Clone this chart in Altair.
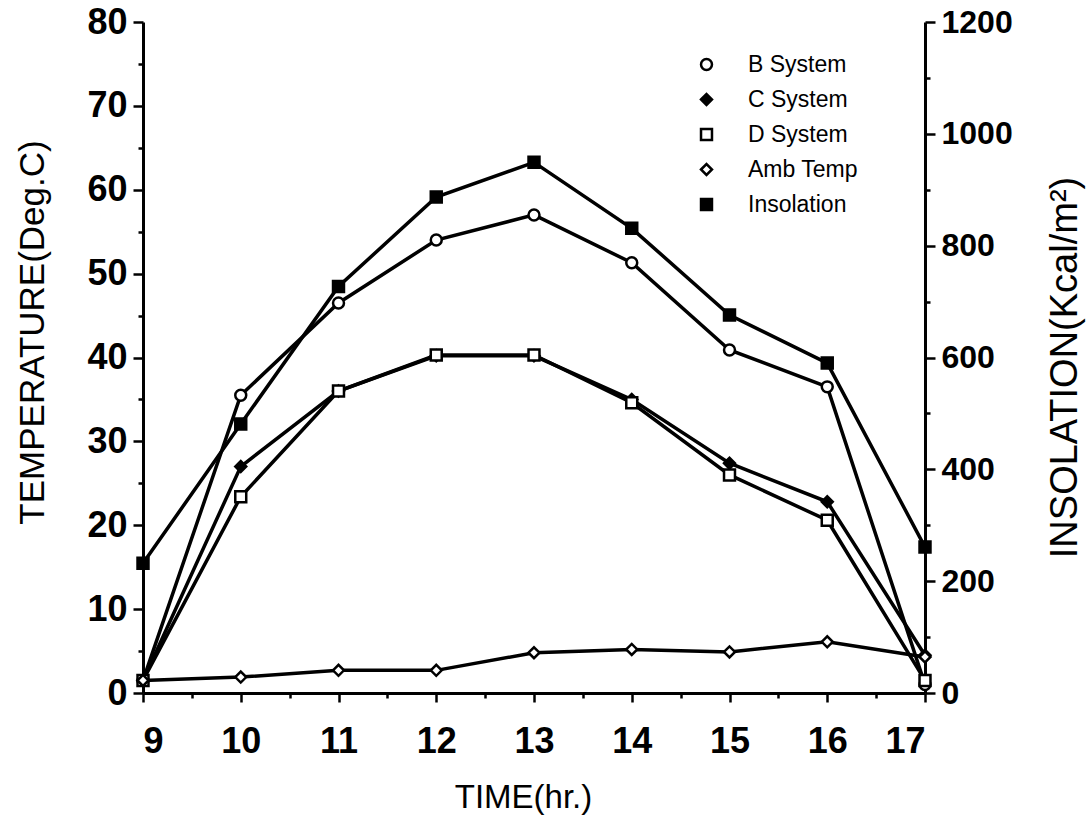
import altair as alt
import pandas as pd

hours = [9, 10, 11, 12, 13, 14, 15, 16, 17]
b_system = [1.5, 35.5, 46.5, 54.0, 57.0, 51.3, 40.9, 36.5, 1.0]
c_system = [1.5, 27.0, 36.0, 40.2, 40.2, 35.0, 27.4, 22.8, 4.5]
d_system = [1.5, 23.4, 36.0, 40.3, 40.3, 34.6, 26.0, 20.6, 1.5]
amb_temp = [1.5, 1.9, 2.7, 2.7, 4.8, 5.2, 4.9, 6.1, 4.3]
insolation = [232, 481, 727, 887, 949, 831, 676, 590, 261]

series_names = ["B System", "C System", "D System", "Amb  Temp", "Insolation"]
shapes = ["circle", "diamond", "square", "diamond", "square"]
fills = ["white", "black", "white", "white", "black"]
strokes = ["black"] * 5

rows = []
for name, vals in zip(series_names[:4], [b_system, c_system, d_system, amb_temp]):
    for h, v in zip(hours, vals):
        rows.append({"hour": h, "series": name, "value": v})
temp_df = pd.DataFrame(rows)
ins_df = pd.DataFrame({"hour": hours, "series": "Insolation", "value": insolation})

FONT = "Liberation Sans"

x_enc = alt.X(
    "hour:Q",
    scale=alt.Scale(domain=[9, 17], nice=False, zero=False),
    axis=alt.Axis(
        values=[9 + 0.5 * i for i in range(17)],
        labelExpr="datum.value % 1 == 0 ? format(datum.value, 'd') : ''",
        title="TIME(hr.)",
        grid=False,
        labelPadding=22,
        titlePadding=22,
        titleFontSize=33,
        titleX=380,
        tickSize={"condition": {"test": "datum.value % 1 == 0", "value": 9}, "value": 5},
    ),
)

leg = alt.Legend(title=None, orient="none", legendX=552, legendY=31)
shape_enc = alt.Shape("series:N", scale=alt.Scale(domain=series_names, range=shapes), legend=leg)
fill_enc = alt.Fill("series:N", scale=alt.Scale(domain=series_names, range=fills), legend=leg)
stroke_enc = alt.Stroke("series:N", scale=alt.Scale(domain=series_names, range=strokes), legend=leg)

y_left = alt.Y(
    "value:Q",
    scale=alt.Scale(domain=[0, 80], nice=False),
    axis=alt.Axis(
        values=list(range(0, 81, 5)),
        labelExpr="datum.value % 10 == 0 ? format(datum.value, 'd') : ''",
        title="TEMPERATURE(Deg.C)",
        orient="left",
        grid=False,
        titlePadding=36,
        titleFontSize=35,
        titleY=310,
        tickSize={"condition": {"test": "datum.value % 10 == 0", "value": 10}, "value": 5},
    ),
)
y_right = alt.Y(
    "value:Q",
    scale=alt.Scale(domain=[0, 1200], nice=False),
    axis=alt.Axis(
        values=list(range(0, 1201, 100)),
        labelExpr="datum.value % 200 == 0 ? format(datum.value, 'd') : ''",
        title="INSOLATION(Kcal/m²)",
        orient="right",
        grid=False,
        titleAngle=270,
        titlePadding=72,
        titleFontSize=38,
        titleY=345,
        labelFontSize=32,
        tickSize={"condition": {"test": "datum.value % 200 == 0", "value": 10}, "value": 5},
    ),
)

temp_lines = alt.Chart(temp_df).mark_line(color="black", strokeWidth=3.5).encode(
    x=x_enc, y=y_left, detail="series:N"
)
temp_points = alt.Chart(temp_df).mark_point(strokeWidth=2.5, size=120, opacity=1).encode(
    x=x_enc, y=y_left, shape=shape_enc, fill=fill_enc, stroke=stroke_enc
)

ins_line = alt.Chart(ins_df).mark_line(color="black", strokeWidth=3.5).encode(
    x=x_enc, y=y_right
)
ins_points = alt.Chart(ins_df).mark_point(strokeWidth=2.5, size=120, opacity=1).encode(
    x=x_enc, y=y_right, shape=shape_enc, fill=fill_enc, stroke=stroke_enc
)

left = alt.layer(temp_lines, temp_points)
right = alt.layer(ins_line, ins_points)

chart = (
    alt.layer(left, right)
    .resolve_scale(y="independent")
    .properties(
        width=782,
        height=671,
        autosize="none",
        padding={"left": 143, "top": 22, "right": 166, "bottom": 125},
        background="white",
    )
    .configure_view(stroke=None)
    .configure_axis(
        domainColor="black",
        domainWidth=3,
        tickColor="black",
        tickWidth=2.5,
        labelFont=FONT,
        labelFontSize=36,
        labelFontWeight="bold",
        labelColor="black",
        labelPadding=6,
        titleFont=FONT,
        titleFontWeight="normal",
        titleColor="black",
    )
    .configure_legend(
        labelFont=FONT,
        labelFontSize=23,
        labelColor="black",
        labelOffset=30,
        rowPadding=11,
        symbolSize=120,
        symbolStrokeColor="black",
        symbolStrokeWidth=2.5,
    )
)

chart.save("out.html", embed_options={"renderer": "svg", "actions": False})
